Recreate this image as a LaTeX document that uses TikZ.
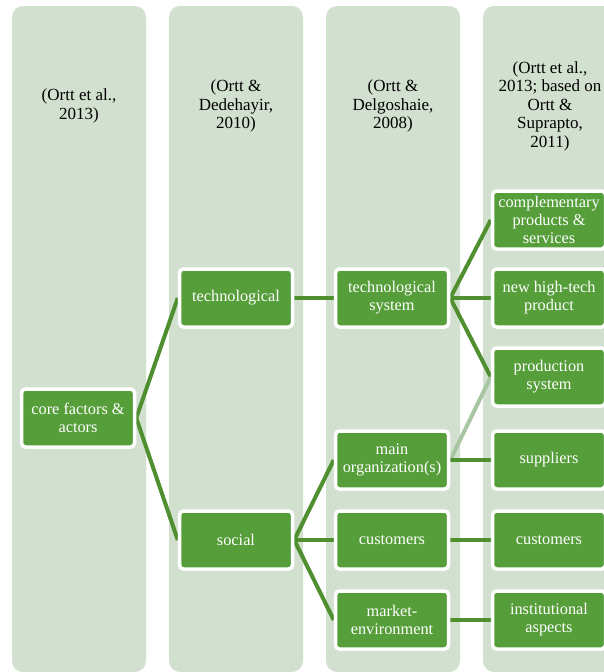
\documentclass[tikz,border=0pt]{standalone}
\usepackage{fontspec}
\setmainfont{Liberation Serif}
\begin{document}
\pgfdeclarelayer{cols}
\pgfdeclarelayer{links}
\pgfsetlayers{cols,links,main}
\definecolor{colbg}{HTML}{D2E0CF}
\definecolor{boxgreen}{HTML}{559E3A}
\definecolor{linkgreen}{HTML}{4F8F30}
\definecolor{palelink}{HTML}{A9C6A3}
\begin{tikzpicture}[x=1pt,y=-1pt,
  column/.style={fill=colbg,rounded corners=11pt},
  title/.style={align=center,font=\fontsize{17}{18.5}\selectfont,text=black},
  item/.style={draw=white,line width=3.5pt,fill=boxgreen,rounded corners=4pt,
    minimum width=113pt,minimum height=58pt,align=center,text=white,
    inner sep=1pt,font=\fontsize{16.3}{18}\selectfont},
  link/.style={draw=linkgreen,line width=4pt},
  palelinkstyle/.style={draw=palelink,line width=4pt}]
\useasboundingbox (0,0) rectangle (603,672);

% background columns
\begin{pgfonlayer}{cols}
  \fill[column] (12,6) rectangle (146,672);
  \fill[column] (169,6) rectangle (303,672);
  \fill[column] (326,6) rectangle (460,672);
  \fill[column] (483,6) rectangle (617,672);
\end{pgfonlayer}

% column sources
\node[title] (s1) at (79,106) {(Ortt et al.,\\2013)};
\node[title] (s2) at (236,106) {(Ortt \&\\Dedehayir,\\2010)};
\node[title] (s3) at (393,106) {(Ortt \&\\Delgoshaie,\\2008)};
\node[title] (s4) at (550,106) {(Ortt et al.,\\2013; based on\\Ortt \&\\Suprapto,\\2011)};

% factor boxes
\node[item] (core) at (78,418) {core factors \&\\actors};
\node[item] (tech) at (236,298) {technological};
\node[item] (soc) at (236,540) {social};
\node[item] (tsys) at (392,298) {technological\\system};
\node[item] (morg) at (392,460) {main\\organization(s)};
\node[item] (cust) at (392,540) {customers};
\node[item] (menv) at (392,620) {market-\\environment};
\node[item] (comp) at (549,220) {complementary\\products \&\\services};
\node[item] (prod) at (549,298) {new high-tech\\product};
\node[item] (psys) at (549,377) {production\\system};
\node[item] (supp) at (549,460) {suppliers};
\node[item] (cust2) at (549,540) {customers};
\node[item] (inst) at (549,620) {institutional\\aspects};

% connectors
\begin{pgfonlayer}{links}
  \draw[link] (core.east) -- (tech.west);
  \draw[link] (core.east) -- (soc.west);
  \draw[link] (tech.east) -- (tsys.west);
  \draw[link] (tsys.east) -- (comp.west);
  \draw[link] (tsys.east) -- (prod.west);
  \draw[link] (tsys.east) -- (psys.west);
  \draw[palelinkstyle] (morg.east) -- (psys.west);
  \draw[link] (morg.east) -- (supp.west);
  \draw[link] (soc.east) -- (morg.west);
  \draw[link] (soc.east) -- (cust.west);
  \draw[link] (soc.east) -- (menv.west);
  \draw[link] (cust.east) -- (cust2.west);
  \draw[link] (menv.east) -- (inst.west);
\end{pgfonlayer}
\end{tikzpicture}
\end{document}
